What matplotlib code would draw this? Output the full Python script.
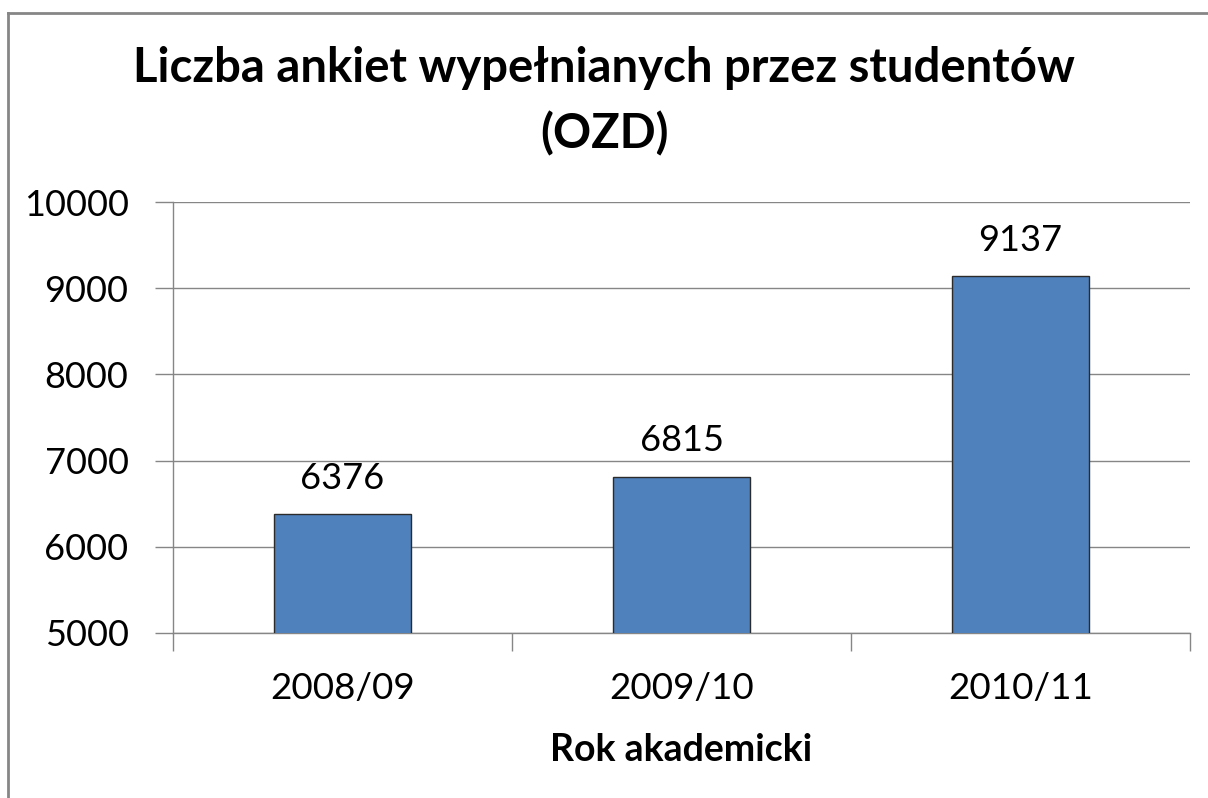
import matplotlib.pyplot as plt
from matplotlib.lines import Line2D

# dane
lata = ['2008/09', '2009/10', '2010/11']
ankiety = [6376, 6815, 9137]
yticks = [5000, 6000, 7000, 8000, 9000, 10000]

plt.rcParams['font.family'] = ['Lato', 'DejaVu Sans']

fig = plt.figure(figsize=(12.08, 7.98), dpi=100)
W, H = 1208, 798
ax = fig.add_axes([173 / W, 1 - 633 / H, (1190 - 173) / W, (633 - 202) / H])

x = range(len(lata))
bars = ax.bar(x, ankiety, width=0.405, color='#4F81BD', edgecolor='#2b2b2b',
              linewidth=1.0, zorder=3)

ax.set_xlim(-0.5, 2.5)
ax.set_ylim(5000, 10000)
ax.set_yticks(yticks)
ax.set_yticklabels([str(v) for v in yticks], fontsize=26)
ax.grid(axis='y', color='#868686', linewidth=1.0, zorder=0)

# podział kategorii - znaczniki osi x
ax.set_xticks([-0.5, 0.5, 1.5, 2.5], minor=False)
ax.set_xticklabels([])
ax.tick_params(axis='x', length=13, color='#868686', width=1.0)
ax.tick_params(axis='y', length=13, color='#868686', width=1.0, pad=19)
ax.set_xticks(list(x), minor=True)
ax.set_xticklabels(lata, minor=True, fontsize=26.5)
ax.tick_params(axis='x', which='minor', length=0, pad=28)

for s in ['top', 'right']:
    ax.spines[s].set_visible(False)
for s in ['left', 'bottom']:
    ax.spines[s].set_color('#868686')
    ax.spines[s].set_linewidth(1.0)

# etykiety danych
for i, v in enumerate(ankiety):
    ax.annotate(str(v), (i, v), xytext=(0, 14), textcoords='offset points',
                ha='center', va='bottom', fontsize=26)

ax.set_xlabel('Rok akademicki', fontsize=27, fontweight='bold', labelpad=20)

fig.text(0.5, 1 - 68 / H, 'Liczba ankiet wypełnianych przez studentów',
         ha='center', va='center', fontsize=34, fontweight='bold')
fig.text(0.5, 1 - 134 / H, '(OZD)', ha='center', va='center',
         fontsize=34, fontweight='bold')

# ramka wykresu
fig.add_artist(Line2D([8 / W, 1], [1 - 13 / H, 1 - 13 / H], color='#868686', lw=2))
fig.add_artist(Line2D([8 / W, 8 / W], [0, 1 - 13 / H], color='#868686', lw=2))

fig.savefig('out.png', dpi=100)
